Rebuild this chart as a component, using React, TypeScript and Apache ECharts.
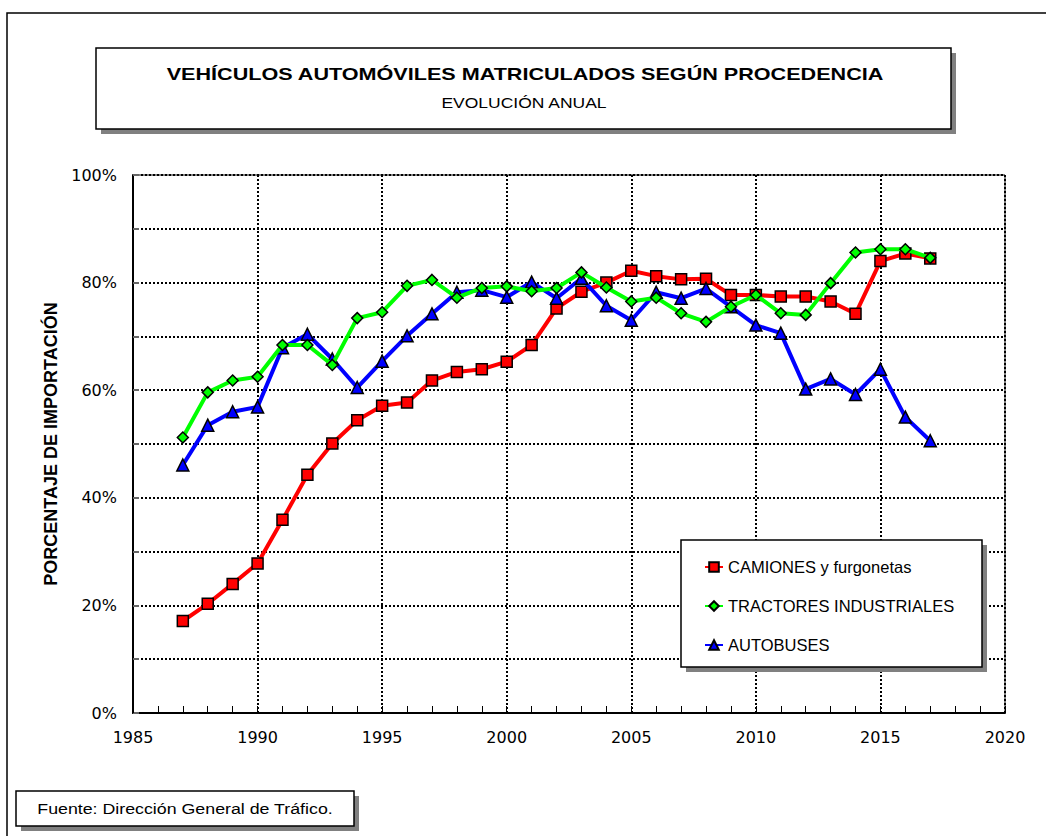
import React, { useEffect, useRef } from "react";
import * as echarts from "echarts";

const years = [1987,1988,1989,1990,1991,1992,1993,1994,1995,1996,1997,1998,1999,2000,2001,2002,2003,2004,2005,2006,2007,2008,2009,2010,2011,2012,2013,2014,2015,2016,2017];
const camiones = [17.1,20.3,24.0,27.8,35.9,44.3,50.1,54.4,57.1,57.7,61.8,63.4,63.9,65.3,68.4,75.2,78.3,80.0,82.2,81.2,80.6,80.7,77.7,77.7,77.4,77.4,76.5,74.2,84.0,85.4,84.5];
const tractores = [51.2,59.6,61.8,62.5,68.4,68.4,64.7,73.4,74.5,79.4,80.5,77.2,79.0,79.3,78.4,79.0,81.9,79.1,76.5,77.2,74.3,72.7,75.5,77.7,74.3,74.0,79.9,85.6,86.2,86.2,84.6];
const autobuses = [46.1,53.5,56.0,56.9,67.9,70.4,65.8,60.5,65.4,70.1,74.2,78.2,78.6,77.3,80.1,77.1,80.8,75.7,73.0,78.2,77.1,78.9,75.5,72.1,70.6,60.2,62.1,59.2,63.9,55.0,50.6];

const seriesNames = ["CAMIONES y furgonetas", "TRACTORES INDUSTRIALES", "AUTOBUSES"];
const titleText = "VEHÍCULOS AUTOMÓVILES MATRICULADOS SEGÚN PROCEDENCIA";
const subtitleText = "EVOLUCIÓN ANUAL";
const yAxisTitle = "PORCENTAJE DE IMPORTACIÓN";
const sourceText = "Fuente: Dirección General de Tráfico.";

const FONT = "Arial, 'Liberation Sans', sans-serif";
const WIDE = "'DejaVu Sans', Arial, sans-serif";

function pairs(vals: number[]) {
  return years.map((y, i) => [y, vals[i]]);
}

export default function App() {
  const ref = useRef<HTMLDivElement>(null);
  useEffect(() => {
    if (!ref.current) return;
    const chart = echarts.init(ref.current, null, { renderer: "svg" });
    const shadowBox = (x: number, y: number, w: number, h: number) => [
      { type: "rect", shape: { x: x + 5, y: y + 5, width: w, height: h }, style: { fill: "#808080" }, z: 10 },
      { type: "rect", shape: { x, y, width: w, height: h }, style: { fill: "#fff", stroke: "#000", lineWidth: 1.5 }, z: 11 },
    ];
    chart.setOption({
      animation: false,
      backgroundColor: "#fff",
      textStyle: { fontFamily: FONT },
      grid: {
        left: 133, right: 41, top: 175, bottom: 123,
        show: true, borderColor: "#000", borderWidth: 1, backgroundColor: "transparent",
      },
      xAxis: {
        type: "value", min: 1985, max: 2020, interval: 5,
        axisLine: { show: true, lineStyle: { color: "#000", width: 2 } },
        axisTick: { show: true, inside: true, length: 7, lineStyle: { color: "#000" } },
        minorTick: { show: true, splitNumber: 5, length: 7, lineStyle: { color: "#000" } },
        axisLabel: { color: "#000", fontSize: 16, margin: 16, fontFamily: WIDE, formatter: (v: number) => String(v) },
        splitLine: { show: true, lineStyle: { color: "#000", type: [2, 2], width: 2 } },
      },
      yAxis: {
        type: "value", min: 0, max: 100, interval: 10,
        name: yAxisTitle, nameLocation: "middle", nameGap: 72,
        nameTextStyle: { color: "#000", fontSize: 18, fontWeight: "bold", fontFamily: FONT },
        axisLine: { show: true, lineStyle: { color: "#000", width: 2 } },
        axisTick: { show: true, inside: true, length: 6, lineStyle: { color: "#666", width: 2 } },
        axisLabel: {
          color: "#000", fontSize: 16, margin: 16, fontFamily: WIDE,
          formatter: (v: number) => (Math.round(v) % 20 === 0 ? Math.round(v) + "%" : ""),
        },
        splitLine: { show: true, lineStyle: { color: "#000", type: [2, 2], width: 2 } },
      },
      legend: {
        orient: "vertical", left: 699, top: 553, itemGap: 21, itemWidth: 18, itemHeight: 12,
        data: seriesNames,
        textStyle: { color: "#000", fontSize: 16.5, lineHeight: 18, fontFamily: FONT },
        z: 20,
      },
      series: [
        {
          name: seriesNames[0], type: "line", data: pairs(camiones),
          symbol: "rect", symbolSize: 11,
          lineStyle: { color: "#ff0000", width: 4 },
          itemStyle: { color: "#ff0000", borderColor: "#000", borderWidth: 1.5 },
          z: 3,
        },
        {
          name: seriesNames[2], type: "line", data: pairs(autobuses),
          symbol: "triangle", symbolSize: 12,
          lineStyle: { color: "#0000ff", width: 4 },
          itemStyle: { color: "#0000ff", borderColor: "#000", borderWidth: 1.5 },
          z: 4,
        },
        {
          name: seriesNames[1], type: "line", data: pairs(tractores),
          symbol: "diamond", symbolSize: 11,
          lineStyle: { color: "#00ff00", width: 4 },
          itemStyle: { color: "#00ff00", borderColor: "#000", borderWidth: 1.5 },
          z: 5,
        },
      ],
      graphic: [
        { type: "rect", shape: { x: 7, y: 13, width: 1200, height: 1000 }, style: { fill: "transparent", stroke: "#000", lineWidth: 1.5 }, z: 1, silent: true },
        ...shadowBox(96, 48, 855, 81),
        { type: "text", x: 525, y: 74, scaleX: 1.27, style: { text: titleText, fill: "#000", font: `bold 17px ${FONT}`, align: "center", verticalAlign: "middle" }, z: 12 },
        { type: "text", x: 524, y: 103, scaleX: 1.25, style: { text: subtitleText, fill: "#000", font: `14px ${FONT}`, align: "center", verticalAlign: "middle" }, z: 12 },
        ...shadowBox(681, 540, 301, 127),
        ...shadowBox(16, 791, 338, 35),
        { type: "text", x: 185, y: 809, scaleX: 1.27, style: { text: sourceText, fill: "#000", font: `14px ${FONT}`, align: "center", verticalAlign: "middle" }, z: 12 },
      ],
    });
    return () => chart.dispose();
  }, []);
  return <div ref={ref} style={{ position: "absolute", left: 0, top: 0, width: 1046, height: 836 }} />;
}
